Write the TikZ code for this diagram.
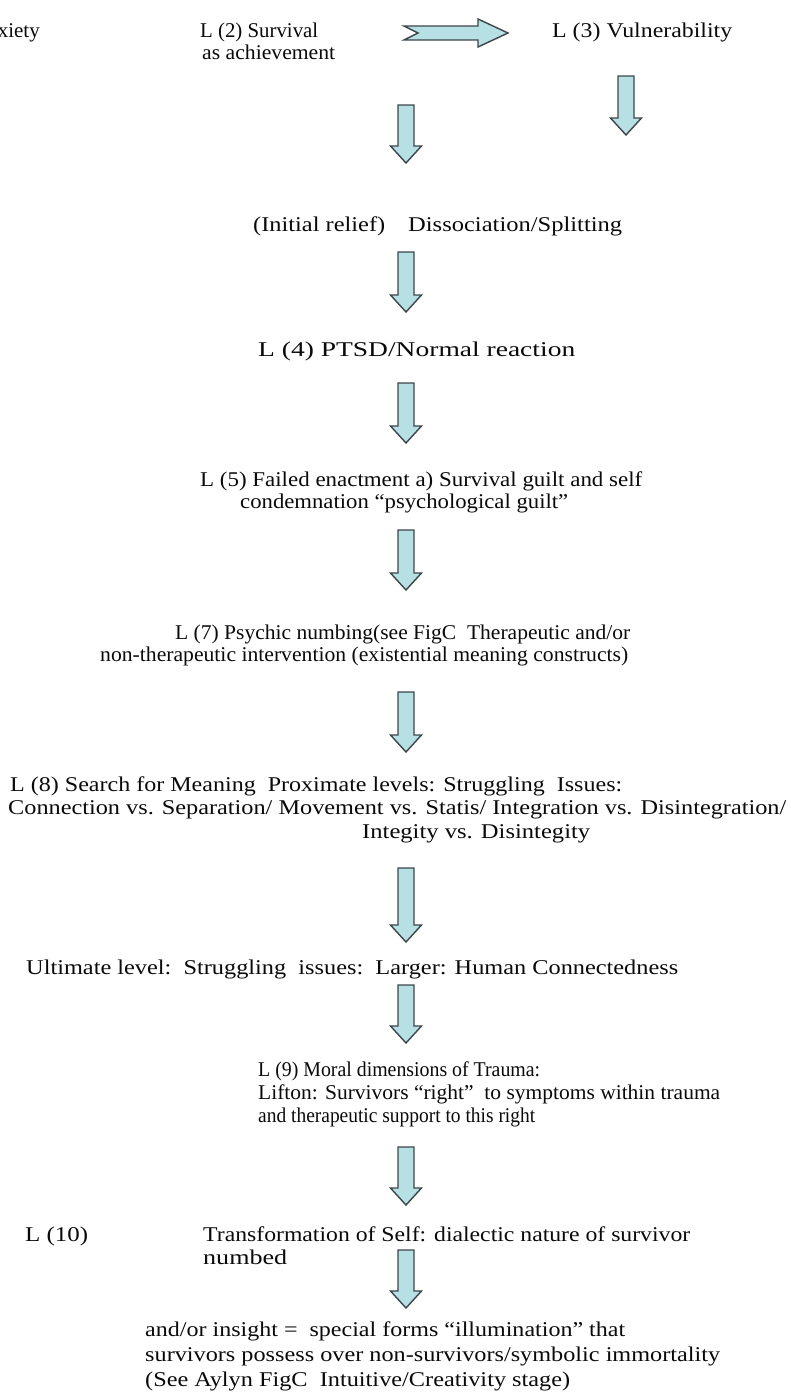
\documentclass[tikz,border=0pt]{standalone}
\usepackage{fontspec}
\setmainfont{Liberation Serif}
\usepackage{graphicx}
\definecolor{afill}{RGB}{183,224,228}
\definecolor{aline}{RGB}{60,70,75}
\definecolor{ink}{RGB}{10,10,10}
\newcommand\fitw[2]{\resizebox{#1pt}{\height}{#2}}
\newcommand\varrow[3]{%
  \draw[blockarrow] (#1-8,#2) -- (#1+8,#2) -- (#1+8,#3-17) -- (#1+15.5,#3-17) -- (#1,#3)
     -- (#1-15.5,#3-17) -- (#1-8,#3-17) -- cycle;}
\begin{document}
\begin{tikzpicture}[x=1pt,y=-1pt,
  txt/.style={anchor=base west, inner sep=0pt, text=ink, font=\fontsize{21}{25}\selectfont},
  blockarrow/.style={fill=afill, draw=aline, line width=1.4pt, line join=miter}]
\useasboundingbox (0,0) rectangle (791,1400);
\fill[white] (0,0) rectangle (791,1400);
% top row
\node[txt, anchor=base east] (t1) at (40,37) {Anxiety};
\node[txt] (t2a) at (200,37) {\fitw{118}{L (2) Survival}};
\node[txt] (t2b) at (202,59) {\fitw{133}{as achievement}};
\node[txt] (t3) at (552,37) {\fitw{180}{L (3) Vulnerability}};
\draw[blockarrow] (404,26) -- (478,26) -- (478,19) -- (508,33) -- (478,47) -- (478,40) -- (404,40) -- (418,33) -- cycle;
\varrow{626}{76}{135}
\varrow{406}{105}{163}
% rows
\node[txt] (t4a) at (253,231) {\fitw{132}{(Initial relief)}};
\node[txt] (t4b) at (408,231) {\fitw{214}{Dissociation/Splitting}};
\varrow{406}{252}{312}
\node[txt] (t5) at (258,356) {\fitw{317}{L (4) PTSD/Normal reaction}};
\varrow{406}{383}{443}
\node[txt] (t6a) at (200,486) {\fitw{442}{L (5) Failed enactment a) Survival guilt and self}};
\node[txt] (t6b) at (240,508) {\fitw{328}{condemnation “psychological guilt”}};
\varrow{406}{530}{590}
\node[txt] (t7a) at (175,639) {\fitw{455}{L (7) Psychic numbing(see FigC\ \ Therapeutic and/or}};
\node[txt] (t7b) at (100,661) {\fitw{528}{non-therapeutic intervention (existential meaning constructs)}};
\varrow{406}{692}{752}
\node[txt] (t8a) at (10,791) {\fitw{612}{L (8) Search for Meaning\ \ Proximate levels: Struggling\ \ Issues:}};
\node[txt] (t8b) at (8,814) {\fitw{778}{Connection vs. Separation/ Movement vs. Statis/ Integration vs. Disintegration/}};
\node[txt] (t8c) at (362,838) {\fitw{228}{Integity vs. Disintegity}};
\varrow{406}{868}{942}
\node[txt] (t9) at (26,974) {\fitw{652}{Ultimate level:\ \ Struggling\ \ issues:\ \ Larger: Human Connectedness}};
\varrow{406}{985}{1043}
\node[txt] (t10a) at (258,1076) {\fitw{282}{L (9) Moral dimensions of Trauma:}};
\node[txt] (t10b) at (258,1099) {\fitw{462}{Lifton: Survivors “right”\ \ to symptoms within trauma}};
\node[txt] (t10c) at (258,1122) {\fitw{277}{and therapeutic support to this right}};
\varrow{406}{1147}{1205}
\node[txt] (t11) at (25,1241) {\fitw{63}{L (10)}};
\node[txt] (t12a) at (203,1241) {\fitw{487}{Transformation of Self: dialectic nature of survivor}};
\node[txt] (t12b) at (203,1264) {\fitw{84}{numbed}};
\varrow{406}{1250}{1308}
\node[txt] (t13a) at (145,1336) {\fitw{480}{and/or insight =\ \ special forms “illumination” that}};
\node[txt] (t13b) at (145,1361) {\fitw{575}{survivors possess over non-survivors/symbolic immortality}};
\node[txt] (t13c) at (145,1386) {\fitw{425}{(See Aylyn FigC\ \ Intuitive/Creativity stage)}};
\end{tikzpicture}
\end{document}
